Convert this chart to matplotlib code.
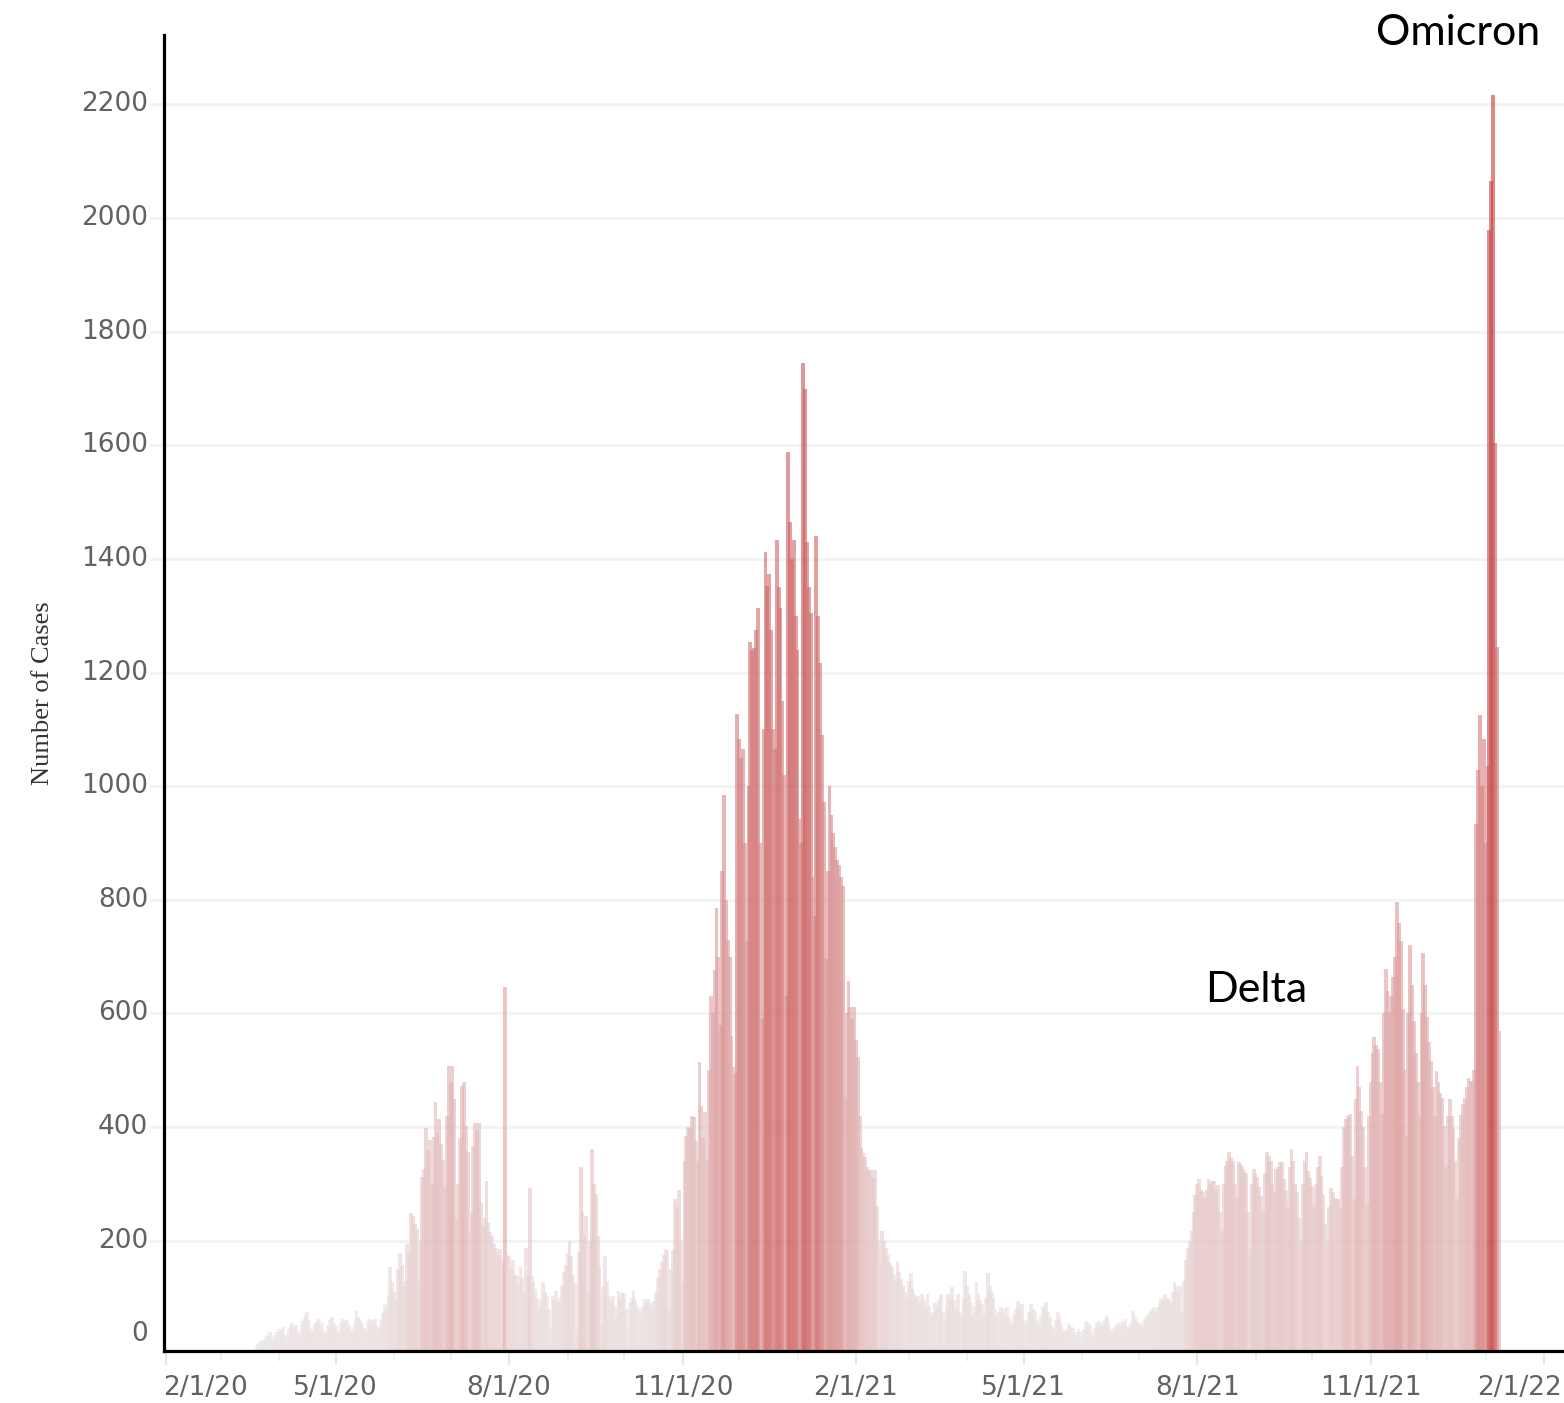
import numpy as np
import pandas as pd
import matplotlib
matplotlib.use("Agg")
import matplotlib.pyplot as plt
import matplotlib.dates as mdates
from matplotlib.colors import LinearSegmentedColormap, Normalize
from matplotlib.transforms import blended_transform_factory, ScaledTranslation

# daily case counts, first bar on 3/16/20
start_day = "2020-03-16"

cases_spring_2020 = [
    3, 5, 8, 10, 14, 18, 22, 26, 24, 30,
    34, 39, 30, 26, 35, 40, 44, 42, 48, 35,
    30, 44, 50, 55, 48, 52, 40, 36, 58, 62,
    70, 74, 60, 45, 40, 55, 58, 62, 50, 56,
    42, 38, 52, 60, 65, 55, 50, 42, 36, 55,
    63, 58, 60, 52, 44, 40, 58, 76, 65, 60,
    55, 46, 42, 58, 62, 56, 60, 63, 50, 45,
    60,
]
cases_summer_2020 = [
    72, 88, 80, 102, 153, 128, 110, 95, 150, 178,
    158, 120, 130, 194, 180, 248, 243, 230, 220, 128,
    200, 313, 327, 398, 360, 378, 300, 382, 445, 390,
    414, 370, 343, 294, 420, 507, 480, 507, 450, 238,
    300, 380, 473, 480, 402, 357, 214, 250, 367, 408,
    395, 408, 267, 226, 240, 305, 232, 215, 208, 195,
    188, 175, 186, 170, 160, 646, 175, 173,
]
cases_fall_2020 = [
    150, 167, 140, 138, 120, 153, 135, 110, 188, 140,
    292, 138, 128, 115, 100, 80, 95, 127, 110, 103,
    80, 44, 103, 95, 111, 90, 100, 120, 145, 158,
    179, 199, 173, 140, 126, 44, 180, 329, 250, 208,
    243, 108, 200, 361, 300, 282, 209, 153, 53, 120,
    173, 130, 103, 95, 103, 85, 70, 111, 100, 108,
    108, 80, 44, 90, 100, 111, 95, 85, 80, 73,
    85, 97, 90, 97, 85, 91, 94,
]
cases_nov_2020 = [
    110, 135, 150, 163, 175, 185, 183, 80, 150, 183,
    273, 260, 290, 200, 125, 341, 384, 400, 398, 420,
    417, 375, 340, 514, 437, 380, 426, 343, 500, 630,
    600, 676, 785, 700, 579, 850, 984, 800, 729, 699,
    560, 505, 495,
]
cases_winter_2021 = [
    1127, 1083, 1050, 1065, 900, 727, 1000, 1253, 1240, 1243,
    1274, 1313, 900, 590, 1100, 1412, 1352, 1373, 1274, 1100,
    1066, 1433, 1350, 1313, 1150, 1019, 630, 1588, 1465, 1400,
    1433, 1300, 1240, 942, 900, 1745, 1699, 1430, 1350, 1305,
    840, 771, 1440, 1300, 1217, 1090, 972, 695, 850, 1001,
    950, 917, 893, 870, 862, 840, 825, 449, 600, 658,
    611, 590, 611, 554, 523, 420, 364, 355, 347, 329,
    325, 324, 310, 324, 262,
]
cases_spring_2021 = [
    200, 160, 217, 200, 188, 175, 160, 153, 140, 130,
    162, 145, 132, 123, 110, 100, 130, 143, 115, 106,
    100, 103, 90, 106, 95, 85, 106, 85, 70, 75,
    90, 83, 95, 106, 74, 60, 85, 106, 100, 118,
    95, 80, 106, 74, 65, 100, 146, 120, 106, 90,
    70, 85, 127, 106, 95, 88, 70, 100, 143, 120,
    109, 99, 80, 65, 75, 83, 80, 70, 83, 65,
    55, 53, 70, 80, 94, 85, 88, 60, 53, 60,
    75, 88, 80, 76, 60, 50, 70, 85, 80, 93,
    75, 65, 50, 45, 60, 74, 65, 56, 45, 40,
    44, 53, 50, 47, 40, 35, 44, 40, 32, 45,
    59, 55, 50, 40, 35, 47, 55, 59, 50, 55,
    62, 68, 55, 45, 40, 47, 50, 55, 50, 59,
    55, 63, 50, 45, 56, 76, 65, 59, 55, 53,
    48, 60, 65, 70, 74, 80, 83, 75, 83, 90,
    100, 95, 106, 100, 97, 90, 110, 127, 120, 110,
    120, 74, 130,
]
cases_delta_omicron = [
    167, 188, 200, 217, 250, 280, 300, 308, 290, 285,
    276, 290, 308, 300, 305, 305, 290, 299, 250, 217,
    300, 331, 340, 357, 345, 340, 300, 275, 338, 335,
    331, 325, 320, 250, 185, 300, 326, 318, 312, 295,
    279, 250, 320, 357, 350, 340, 300, 285, 326, 330,
    338, 338, 308, 290, 260, 330, 361, 340, 300, 285,
    240, 200, 300, 340, 357, 322, 310, 296, 260, 300,
    330, 349, 314, 280, 230, 197, 260, 293, 285, 275,
    274, 273, 260, 330, 400, 415, 420, 423, 350, 273,
    450, 507, 470, 428, 400, 330, 264, 420, 479, 530,
    558, 545, 537, 480, 423, 600, 678, 640, 602, 630,
    664, 700, 797, 760, 727, 607, 500, 384, 600, 721,
    650, 586, 530, 479, 420, 600, 707, 650, 593, 550,
    516, 470, 420, 498, 480, 460, 452, 402, 330, 420,
    449, 420, 396, 340, 273, 380, 421, 440, 452, 470,
    486, 482, 482, 500, 933, 1028, 1125, 1000, 1083, 900,
    1035, 1979, 2065, 2216, 1604, 1245, 569,
]

tick_dates = ["2020-02-01", "2020-05-01", "2020-08-01", "2020-11-01", "2021-02-01",
              "2021-05-01", "2021-08-01", "2021-11-01", "2022-02-01"]
tick_labels = ["2/1/20", "5/1/20", "8/1/20", "11/1/20", "2/1/21",
               "5/1/21", "8/1/21", "11/1/21", "2/1/22"]
y_ticks = list(range(0, 2201, 200))

cases = np.array(cases_spring_2020 + cases_summer_2020 + cases_fall_2020 + cases_nov_2020
                 + cases_winter_2021 + cases_spring_2021 + cases_delta_omicron)
days = pd.date_range(start_day, periods=len(cases), freq="D")

# grey -> red by value, like the tableau palette
cmap = LinearSegmentedColormap.from_list(
    "cases", [(0, "#ebe6e6"), (0.25, "#e0aaaa"), (0.6, "#cf6a6a"), (1, "#c43a3a")])
norm = Normalize(0, cases.max())
colors = cmap(norm(cases))

fig = plt.figure(figsize=(15.64, 14.03), dpi=100)
ax = fig.add_axes([164 / 1564, 52 / 1403, 1400 / 1564, 1316 / 1403])

ax.bar(days, cases, width=2.0, color=colors, alpha=0.6, linewidth=0, zorder=2)

x0 = mdates.date2num(pd.Timestamp("2020-02-01"))
ax.set_xlim(x0 - 1.06, x0 + 741.6)
ax.set_ylim(6, 2322)

# light grid lines, they stick out a bit left of the axis
for v in y_ticks[1:]:
    ax.axhline(v, xmin=-0.0093, xmax=1, color="#f3f3f3", lw=2.2, zorder=0, clip_on=False)

for s in ["top", "right"]:
    ax.spines[s].set_visible(False)
for s in ["left", "bottom"]:
    ax.spines[s].set_color("black")
    ax.spines[s].set_linewidth(2.3)
    ax.spines[s].set_zorder(3)

ax.set_yticks([])
ax.set_xticks([mdates.date2num(pd.Timestamp(d)) for d in tick_dates])
ax.xaxis.set_minor_locator(mdates.MonthLocator())
ax.tick_params(axis="x", which="major", length=10, width=1.6, color="#e6e6e6", labelbottom=False)
ax.tick_params(axis="x", which="minor", length=7, width=1.4, color="#efefef")

lab_font = dict(family="DejaVu Sans", fontsize=19, color="#626262")

ytrans = blended_transform_factory(ax.transAxes, ax.transData)
for v in y_ticks:
    tr = ytrans
    if v == 0:
        tr = ytrans + ScaledTranslation(0, 0.2, fig.dpi_scale_trans)
    ax.text(-0.0114, v, str(v), transform=tr, ha="right", va="center", **lab_font)

xtrans = blended_transform_factory(ax.transData, ax.transAxes)
for i, (d, lab) in enumerate(zip(tick_dates, tick_labels)):
    xd = mdates.date2num(pd.Timestamp(d))
    if i == 0:
        ax.text(xd - 1.5, -0.0281, lab, transform=xtrans, ha="left", va="center", **lab_font)
    elif i == len(tick_dates) - 1:
        ax.text(0.9986, -0.0281, lab, transform=ax.transAxes, ha="right", va="center", **lab_font)
    else:
        ax.text(xd, -0.0281, lab, transform=xtrans, ha="center", va="center", **lab_font)

fig.text(43 / 1564, 1 - 693 / 1403, "Number of Cases", rotation=90, ha="center", va="center",
         family="Liberation Serif", fontsize=19, color="#333333")

fig.text(1256 / 1564, 1 - 1002 / 1403, "Delta", ha="center", va="baseline",
         family="Lato", fontsize=31, color="black")
fig.text(1458 / 1564, 1 - 45 / 1403, "Omicron", ha="center", va="baseline",
         family="Lato", fontsize=31, color="black")

fig.savefig("out.png", dpi=100, facecolor="white")
